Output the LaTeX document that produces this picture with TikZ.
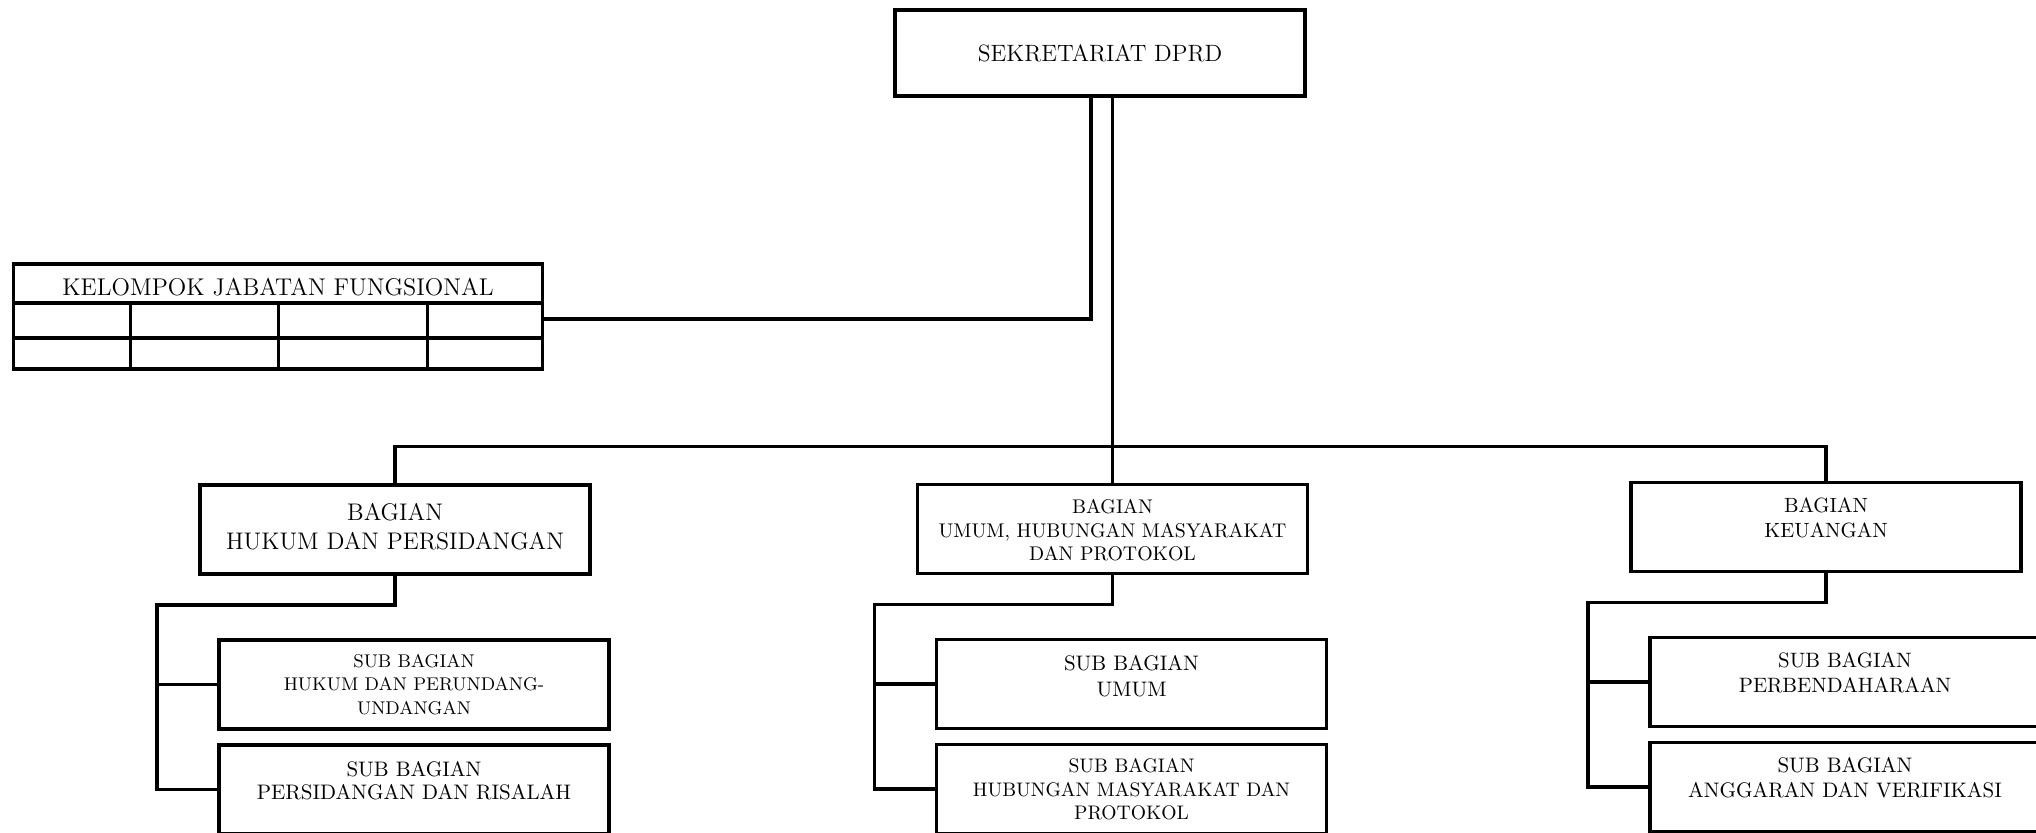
\documentclass[tikz,border=0pt]{standalone}
\usepackage{tikz}
\usetikzlibrary{positioning}

\tikzset{
  unit/.style={draw, rectangle, line width=1.9pt, outer sep=0pt, inner sep=0pt,
    minimum width=195pt, minimum height=44.5pt},
  unittext/.style={align=center, inner sep=0pt, outer sep=0pt},
  link/.style={line width=1.9pt}
}

\begin{document}
\begin{tikzpicture}[x=0.5pt,y=-0.5pt,line join=miter]
\useasboundingbox (0,0) rectangle (2036,832);
% top unit
\node[unit, minimum width=205pt, minimum height=43pt, font=\fontsize{11.8}{14}\selectfont] (sek) at (1100,53) {SEKRETARIAT DPRD};
% functional group table
\node[unit, minimum width=264.5pt, minimum height=52.5pt] (kjf) at (278,316.5) {};
\node[unittext, font=\fontsize{12.1}{14.5}\selectfont] (kjft) [below=7.3pt of kjf.north] {KELOMPOK JABATAN FUNGSIONAL};
\draw[link] ([shift={(0,39)}]kjf.north west) -- ([shift={(0,39)}]kjf.north east);
\draw[link] ([shift={(0,74)}]kjf.north west) -- ([shift={(0,74)}]kjf.north east);
\draw[link] ([shift={(117,39)}]kjf.north west) -- ([shift={(117,0)}]kjf.south west);
\draw[link] ([shift={(265,39)}]kjf.north west) -- ([shift={(265,0)}]kjf.south west);
\draw[link] ([shift={(414,39)}]kjf.north west) -- ([shift={(414,0)}]kjf.south west);
% bagian units
\node[unit] (b1) at (395,529.5) {};
\node[unittext, font=\fontsize{12}{14.5}\selectfont] (b1t) [below=9pt of b1.north] {BAGIAN\\HUKUM DAN PERSIDANGAN};
\node[unit] (b2) at (1112.5,529) {};
\node[unittext, font=\fontsize{9.9}{11.75}\selectfont] (b2t) [below=7.5pt of b2.north] {BAGIAN\\UMUM, HUBUNGAN MASYARAKAT\\DAN PROTOKOL};
\node[unit] (b3) at (1826,527) {};
\node[unittext, font=\fontsize{10.3}{12.5}\selectfont] (b3t) [below=7.5pt of b3.north] {BAGIAN\\KEUANGAN};
% sub bagian units
\node[unit, anchor=north west] (s11) at ([shift={(19,66)}]b1.south west) {};
\node[unittext, font=\fontsize{9.2}{11.75}\selectfont] (s11t) [below=7pt of s11.north] {SUB BAGIAN\\HUKUM DAN PERUNDANG-\\UNDANGAN};
\node[unit] (s12) [below=8pt of s11] {};
\node[unittext, font=\fontsize{10.5}{11.5}\selectfont] (s12t) [below=8pt of s12.north] {SUB BAGIAN\\PERSIDANGAN DAN RISALAH};
\node[unit, anchor=north west] (s21) at ([shift={(19,66)}]b2.south west) {};
\node[unittext, font=\fontsize{10.5}{13}\selectfont] (s21t) [below=8pt of s21.north] {SUB BAGIAN\\UMUM};
\node[unit] (s22) [below=8pt of s21] {};
\node[unittext, font=\fontsize{9.8}{11.75}\selectfont] (s22t) [below=7pt of s22.north] {SUB BAGIAN\\HUBUNGAN MASYARAKAT DAN\\PROTOKOL};
\node[unit, anchor=north west] (s31) at ([shift={(19,66)}]b3.south west) {};
\node[unittext, font=\fontsize{10.4}{12.5}\selectfont] (s31t) [below=7.5pt of s31.north] {SUB BAGIAN\\PERBENDAHARAAN};
\node[unit] (s32) [below=8pt of s31] {};
\node[unittext, font=\fontsize{10.5}{12.5}\selectfont] (s32t) [below=7.5pt of s32.north] {SUB BAGIAN\\ANGGARAN DAN VERIFIKASI};
% the links
\coordinate (sekl) at ([shift={(-9,0)}]sek.south);
\draw[link] (sekl) |- ([shift={(0,2.5)}]kjf.east);
\draw[link] (sek.south -| b2.north) -- (b2.north);
\coordinate (bus) at ([shift={(0,-38)}]b2.north);
\draw[link] (b1.north) |- (bus) -| (b3.north);
\coordinate (j1) at ([shift={(-43,31)}]b1.south west);
\draw[link] (b1.south) |- (j1) |- (s12.west);
\draw[link] (j1 |- s11.west) -- (s11.west);
\coordinate (j2) at ([shift={(-43,31)}]b2.south west);
\draw[link] (b2.south) |- (j2) |- (s22.west);
\draw[link] (j2 |- s21.west) -- (s21.west);
\coordinate (j3) at ([shift={(-43,31)}]b3.south west);
\draw[link] (b3.south) |- (j3) |- (s32.west);
\draw[link] (j3 |- s31.west) -- (s31.west);
\end{tikzpicture}
\end{document}
